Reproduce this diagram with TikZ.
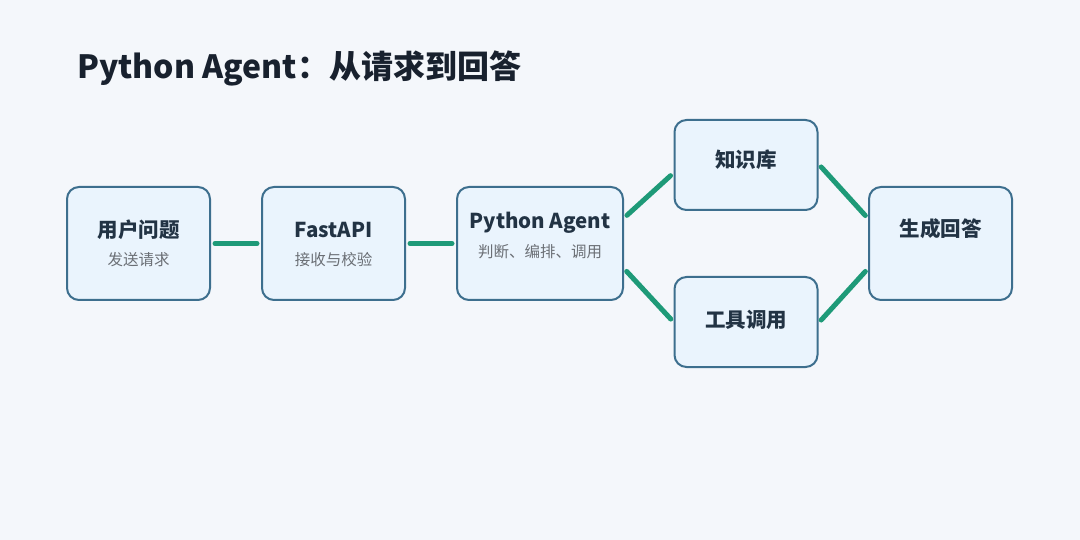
\documentclass[tikz,border=0pt]{standalone}
\usepackage{fontspec}
\setmainfont{Noto Sans CJK SC}
\usepackage{xcolor}
\usetikzlibrary{positioning}

\definecolor{bgpage}{HTML}{F4F7FB}
\definecolor{boxfill}{HTML}{EAF4FD}
\definecolor{boxline}{HTML}{3D6F8E}
\definecolor{linkgreen}{HTML}{1E9A78}
\definecolor{inktitle}{HTML}{18212E}
\definecolor{inkhead}{HTML}{223344}
\definecolor{inknote}{HTML}{6B6F75}

\tikzset{
  stage/.style={draw=boxline, line width=2pt, fill=boxfill, rounded corners=12pt,
    minimum width=143pt, minimum height=113pt, inner sep=0pt},
  smallstage/.style={stage, minimum height=90pt},
  head/.style={font=\fontsize{20.5}{24}\selectfont\bfseries, text=inkhead, inner sep=0pt},
  note/.style={font=\fontsize{15.5}{18}\selectfont, text=inknote, inner sep=0pt},
  link/.style={linkgreen, line width=5pt, line cap=round, shorten <=4pt, shorten >=4pt}
}

\begin{document}
\begin{tikzpicture}[x=1pt, y=-1pt]
            % Page background
            \fill[bgpage] (0,0) rectangle (1080,540);

            % Title
            \node[anchor=west, inner sep=0pt, text=inktitle,
                  font=\fontsize{32}{38}\selectfont\bfseries] (title) at (77,68) {Python Agent：从请求到回答};

            % Draw the boxes
            \node[stage] (user) at (138.5,243.5) {};
            \node[stage, right=50pt of user] (api) {};
            \node[stage, minimum width=166pt, right=50pt of api] (agent) {};
            \node[smallstage] (kb) at (746,165) {};
            \node[smallstage] (tool) at (746,322) {};
            \node[stage] (answer) at (940.5,243.5) {};

            % Box texts
            \node[head] (userhead) at ([yshift=13.5pt]user.center) {用户问题};
            \node[note] (usernote) at ([yshift=-16.5pt]user.center) {发送请求};
            \node[head] (apihead) at ([yshift=13.5pt]api.center) {FastAPI};
            \node[note] (apinote) at ([yshift=-16.5pt]api.center) {接收与校验};
            \node[head] (agenthead) at ([yshift=21pt]agent.center) {Python Agent};
            \node[note] (agentnote) at ([yshift=-8.5pt]agent.center) {判断、编排、调用};
            \node[head] (kbhead) at ([yshift=5pt]kb.center) {知识库};
            \node[head] (toolhead) at ([yshift=2pt]tool.center) {工具调用};
            \node[head] (answerhead) at ([yshift=14.5pt]answer.center) {生成回答};

            % Connect the boxes
            \foreach \a/\b in {user/api, api/agent}
                \draw[link] (\a) -- (\b);
            \draw[link] ([yshift=25.5pt]agent.east) -- ([yshift=-8pt]kb.west);
            \draw[link] ([yshift=-25pt]agent.east) -- (tool.west);
            \draw[link] ([yshift=1pt]kb.east) -- ([yshift=25pt]answer.west);
            \draw[link] ([yshift=-1pt]tool.east) -- ([yshift=-25pt]answer.west);
        \end{tikzpicture}
\end{document}
